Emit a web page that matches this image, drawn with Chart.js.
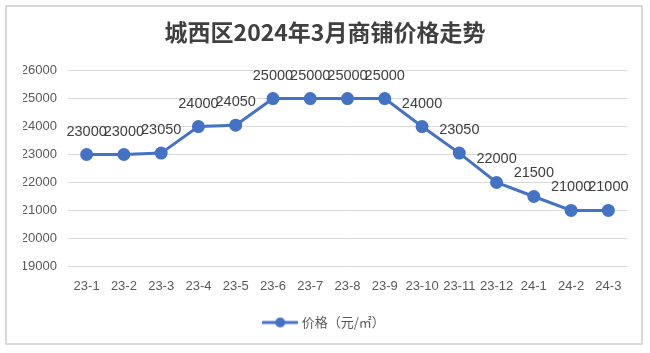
<!DOCTYPE html>
<html><head><meta charset="utf-8">
<script src="https://cdn.jsdelivr.net/npm/chart.js@4/dist/chart.umd.min.js"></script>
<style>
html,body{margin:0;padding:0;background:#fff;}
#wrap{position:relative;width:650px;height:353px;}
#frame{position:absolute;left:5px;top:5px;width:638px;height:340px;border:2px solid #d9d9d9;box-sizing:border-box;}
canvas{position:absolute;left:0;top:0;}
</style></head>
<body><div id="wrap"><div id="frame"></div><canvas id="c" width="650" height="353"></canvas></div>
<script>
const titleText = '城西区2024年3月商铺价格走势';
const categories = ['23-1','23-2','23-3','23-4','23-5','23-6','23-7','23-8','23-9','23-10','23-11','23-12','24-1','24-2','24-3'];
const seriesName = '价格（元/㎡）';
const prices = [23000,23000,23050,24000,24050,25000,25000,25000,25000,24000,23050,22000,21500,21000,21000];
const yMin = 19000, yMax = 26000, yStep = 1000;

const lineColor = '#4472C4';

// legend icon: line with dot
const icon = document.createElement('canvas');
icon.width = 36; icon.height = 12;
(function(){
  const g = icon.getContext('2d');
  g.strokeStyle = lineColor; g.lineWidth = 3; g.lineCap='round';
  g.beginPath(); g.moveTo(1,6); g.lineTo(35,6); g.stroke();
  g.fillStyle = lineColor; g.beginPath(); g.arc(18,6,5,0,Math.PI*2); g.fill();
})();

const labelPlugin = {
  id:'pointLabels',
  afterDatasetsDraw(chart){
    const ctx = chart.ctx;
    const meta = chart.getDatasetMeta(0);
    const data = chart.data.datasets[0].data;
    ctx.save();
    ctx.font = '14.5px "Liberation Sans", Arial, sans-serif';
    ctx.fillStyle = '#404040';
    ctx.textAlign = 'center';
    ctx.textBaseline = 'middle';
    meta.data.forEach((pt,i)=>{
      ctx.fillText(String(data[i]), pt.x, pt.y - 23);
    });
    ctx.restore();
  }
};

new Chart(document.getElementById('c'), {
  type:'line',
  data:{
    labels: categories,
    datasets:[{
      label: seriesName,
      data: prices,
      borderColor: lineColor,
      backgroundColor: lineColor,
      borderWidth: 3,
      pointRadius: 5,
      pointHoverRadius: 5,
      pointBackgroundColor: lineColor,
      pointBorderColor: lineColor,
      tension: 0,
      pointStyle: 'circle'
    }]
  },
  options:{
    responsive:false,
    animation:false,
    devicePixelRatio:1,
    layout:{padding:{left:23,right:23,top:0,bottom:14}},
    plugins:{
      title:{
        display:true,
        text:titleText,
        color:'#404040',
        font:{family:'"Noto Sans CJK SC", sans-serif',size:23,weight:'bold'},
        padding:{top:18,bottom:25}
      },
      legend:{
        display:true,
        position:'bottom',
        labels:{
          usePointStyle:true,
          pointStyleWidth:30,
          color:'#595959',
          font:{family:'"Noto Sans CJK SC", sans-serif',size:13},
          padding:10,
          generateLabels(chart){
            return [{text:seriesName, pointStyle:icon, fillStyle:lineColor, strokeStyle:lineColor, lineWidth:0, hidden:false, datasetIndex:0, fontColor:'#595959'}];
          }
        }
      },
      tooltip:{enabled:false}
    },
    scales:{
      x:{
        offset:true,
        grid:{display:false, drawTicks:false},
        border:{display:false},
        ticks:{color:'#595959',font:{family:'"Liberation Sans", Arial, sans-serif',size:13},padding:12,maxRotation:0,autoSkip:false}
      },
      y:{
        min:yMin,max:yMax,
        grid:{color:'#d9d9d9',lineWidth:1,drawTicks:false},
        border:{display:false},
        ticks:{stepSize:yStep,color:'#595959',font:{family:'"Liberation Sans", Arial, sans-serif',size:13},padding:11,
          callback:(v)=>String(v)},
        afterFit(s){ s.width = 45; }
      }
    }
  },
  plugins:[labelPlugin]
});
</script></body></html>
